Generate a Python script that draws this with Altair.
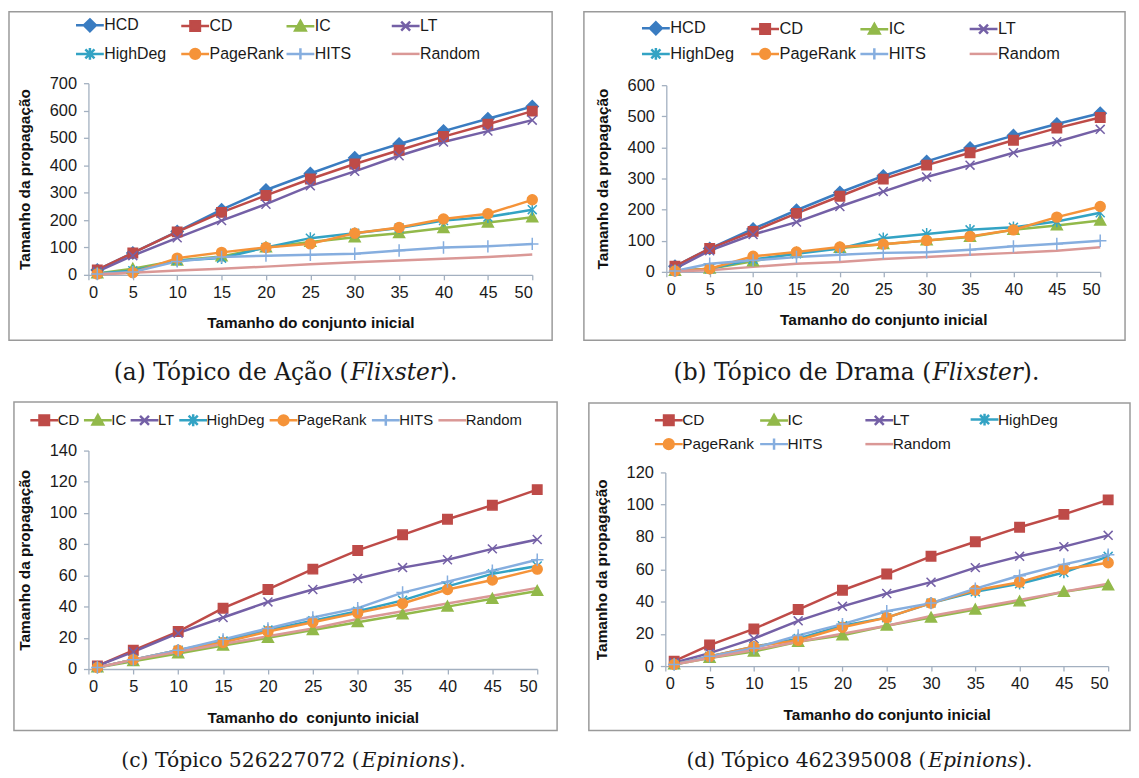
import altair as alt
import pandas as pd

# ---------------- data ----------------
x_vals = [1, 5, 10, 15, 20, 25, 30, 35, 40, 45, 50]

a_series = ["HCD", "CD", "IC", "LT", "HighDeg", "PageRank", "HITS", "Random"]
a_HCD = [18, 80, 158, 238, 310, 370, 428, 478, 525, 570, 615]
a_CD = [18, 80, 157, 228, 290, 350, 405, 455, 505, 550, 598]
a_IC = [5, 22, 52, 67, 100, 120, 137, 152, 171, 191, 210]
a_LT = [12, 70, 135, 198, 258, 325, 378, 435, 485, 525, 565]
a_HighDeg = [5, 15, 52, 61, 100, 134, 152, 171, 198, 211, 238]
a_PageRank = [3, 8, 61, 82, 100, 113, 152, 173, 204, 223, 274]
a_HITS = [3, 10, 49, 65, 70, 73, 77, 89, 100, 104, 113]
a_Random = [1, 8, 16, 22, 30, 39, 46, 52, 59, 65, 74]

b_series = ["HCD", "CD", "IC", "LT", "HighDeg", "PageRank", "HITS", "Random"]
b_HCD = [18, 75, 138, 198, 255, 308, 355, 398, 438, 475, 510]
b_CD = [18, 75, 130, 188, 243, 298, 343, 383, 423, 462, 496]
b_IC = [3, 10, 34, 61, 77, 89, 101, 112, 135, 149, 165]
b_LT = [10, 68, 120, 160, 210, 258, 305, 343, 383, 418, 458]
b_HighDeg = [3, 10, 40, 58, 75, 108, 122, 135, 143, 162, 190]
b_PageRank = [3, 10, 50, 64, 80, 89, 101, 114, 135, 176, 210]
b_HITS = [3, 26, 37, 48, 55, 61, 63, 71, 82, 90, 100]
b_Random = [2, 5, 16, 26, 32, 41, 48, 55, 61, 68, 79]

c_series = ["CD", "IC", "LT", "HighDeg", "PageRank", "HITS", "Random"]
c_CD = [2, 12, 24, 39, 51, 64, 76, 86, 96, 105, 115]
c_IC = [1, 5, 10, 15, 20, 25, 30, 35, 40, 45, 50]
c_LT = [2, 11, 23, 33, 43, 51, 58, 65, 70, 77, 83]
c_HighDeg = [1, 6, 12, 18, 25, 31, 37, 44, 53, 61, 66]
c_PageRank = [1, 6, 12, 17, 24, 30, 36, 42, 51, 57, 64]
c_HITS = [1, 6, 12, 19, 26, 33, 39, 49, 56, 63, 70]
c_Random = [1, 6, 11, 16, 21, 26, 32, 37, 42, 47, 52]

d_series = ["CD", "IC", "LT", "HighDeg", "PageRank", "HITS", "Random"]
d_CD = [3, 13, 23, 35, 47, 57, 68, 77, 86, 94, 103]
d_IC = [1, 5, 9, 15, 19, 25, 30, 35, 40, 46, 50]
d_LT = [2, 8, 17, 28, 37, 45, 52, 61, 68, 74, 81]
d_HighDeg = [1, 6, 12, 17, 25, 30, 39, 46, 51, 58, 68]
d_PageRank = [1, 6, 12, 16, 24, 30, 39, 47, 52, 60, 64]
d_HITS = [1, 6, 11, 19, 26, 34, 39, 48, 56, 63, 69]
d_Random = [1, 5, 10, 15, 20, 25, 31, 36, 41, 46, 51]

x_ticks = [0, 5, 10, 15, 20, 25, 30, 35, 40, 45, 50]
x_title = "Tamanho do conjunto inicial"
c_x_title = "Tamanho do\u00a0 conjunto inicial"
y_title = "Tamanho da propagação"

cap_a = ["(a) Tópico de Ação (", "Flixster", ")."]
cap_b = ["(b) Tópico de Drama (", "Flixster", ")."]
cap_c = ["(c) Tópico 526227072 (", "Epinions", ")."]
cap_d = ["(d) Tópico 462395008 (", "Epinions", ")."]

# ---------------- styles ----------------
COLORS = {
    "HCD": "#3A7CC1", "CD": "#BE4B48", "IC": "#92B94A", "LT": "#7460A6",
    "HighDeg": "#33A3C4", "PageRank": "#F59339", "HITS": "#86AEDF",
    "Random": "#DA9896",
}
MARKERS = {
    "HCD": "diamond", "CD": "square", "IC": "triangle", "LT": "x",
    "HighDeg": "star", "PageRank": "circle", "HITS": "plus", "Random": "none",
}
PT_SCALE = {"diamond": 1.2, "square": 0.95, "triangle": 1.1, "x": 0.9,
            "star": 0.9, "circle": 1.0, "plus": 1.25, "none": 0}
# legend marker half-sizes in px
LG_PX = {"diamond": 6.0, "square": 4.8, "triangle": 5.3, "x": 4.5,
         "star": 4.6, "circle": 4.9, "plus": 5.6, "none": 0}
LEG_SIZE = 576          # layout size of a legend symbol (24 px)
LEG_R = LEG_SIZE ** 0.5 / 2
LEG_HALF_LINE = 14.0    # drawn half-length of the legend line, px


def f(v):
    return f"{v:.3f}".rstrip("0").rstrip(".")


def marker_path(kind, s):
    if kind == "diamond":
        return f"M0,{f(-s)}L{f(s)},0L0,{f(s)}L{f(-s)},0Z"
    if kind == "square":
        return f"M{f(-s)},{f(-s)}H{f(s)}V{f(s)}H{f(-s)}Z"
    if kind == "triangle":
        return f"M0,{f(-s)}L{f(s)},{f(0.8*s)}H{f(-s)}Z"
    if kind == "x":
        return f"M{f(-s)},{f(-s)}L{f(s)},{f(s)}M{f(-s)},{f(s)}L{f(s)},{f(-s)}"
    if kind == "star":
        return (f"M{f(-s)},{f(-s)}L{f(s)},{f(s)}M{f(-s)},{f(s)}L{f(s)},{f(-s)}"
                f"M0,{f(-1.3*s)}V{f(1.3*s)}")
    if kind == "circle":
        return f"M{f(s)},0A{f(s)},{f(s)} 0 1,1 {f(-s)},0A{f(s)},{f(s)} 0 1,1 {f(s)},0Z"
    if kind == "plus":
        return f"M{f(-s)},0H{f(s)}M0,{f(-s)}V{f(s)}"
    return "M0,0"


def point_path(name):
    k = MARKERS[name]
    return marker_path(k, PT_SCALE[k])


def legend_path(name):
    k = MARKERS[name]
    L = LEG_HALF_LINE / LEG_R
    line = f"M{f(-L)},0H{f(L)}"
    if k == "none":
        return line
    return line + marker_path(k, LG_PX[k] / LEG_R)


# approximate DejaVu Serif advance widths (em), used to butt caption pieces
W_REG = {" ": .318, "(": .390, ")": .390, ".": .318, "a": .596, "b": .640,
         "c": .560, "d": .640, "e": .592, "i": .320, "m": .948, "o": .602,
         "p": .640, "r": .478, "T": .669, "A": .722, "D": .770, "ç": .560,
         "ã": .596, "ó": .602}
W_IT = {"F": .683, "E": .730, "l": .320, "i": .320, "x": .565, "s": .513,
        "t": .402, "e": .592, "r": .478, "p": .640, "n": .644, "o": .602}


def text_w(s, table, size):
    return sum(table.get(ch, .636) for ch in s) * size


AX = "#A3B0C0"
FONT = "Liberation Sans"
CAP_FONT = "DejaVu Serif"


def panel(series, values, ymax, ystep, w, h, ytop, frame, legend_kw, cap,
          cap_dx, cap_y, cap_size, xtitle):
    rows = []
    for s in series:
        for xv, yv in zip(x_vals, values[s]):
            rows.append({"x": xv, "v": yv, "series": s})
    df = pd.DataFrame(rows)

    col_scale = alt.Scale(domain=series, range=[COLORS[s] for s in series])
    pt_scale = alt.Scale(domain=series, range=[point_path(s) for s in series])
    lg_scale = alt.Scale(domain=series, range=[legend_path(s) for s in series])

    x_enc = alt.X(
        "x:Q", scale=alt.Scale(domain=[0, 50], nice=False),
        axis=alt.Axis(values=x_ticks, title=xtitle, grid=False,
                      domainColor=AX, tickColor=AX, tickSize=5,
                      domainWidth=1.3, tickWidth=1.3,
                      labelFont=FONT, labelFontSize=16.5,
                      labelColor="#1a1a1a", labelPadding=5,
                      titleFont=FONT, titleFontSize=15.5, titleFontWeight="bold",
                      titleColor="#111111", titlePadding=15))
    y_enc = alt.Y(
        "v:Q", scale=alt.Scale(domain=[0, ymax], nice=False, range=[h, ytop]),
        axis=alt.Axis(values=list(range(0, ymax + 1, ystep)), title=y_title,
                      grid=False, domainColor=AX, tickColor=AX, tickSize=5,
                      domainWidth=1.3, tickWidth=1.3,
                      labelFont=FONT, labelFontSize=16.5,
                      labelColor="#1a1a1a", labelPadding=7,
                      titleFont=FONT, titleFontSize=15.5, titleFontWeight="bold",
                      titleColor="#111111", titlePadding=17))

    fl, fr, ft, fb = frame
    frame_layer = alt.Chart(alt.Data(values=[{}])).mark_rect(
        fill="transparent", stroke="#9A9A9A", strokeWidth=1.5
    ).encode(x=alt.value(fl), x2=alt.value(w + fr), y=alt.value(ft),
             y2=alt.value(fb))

    lines = alt.Chart(df).mark_line(strokeWidth=2.5).encode(
        x=x_enc, y=y_enc,
        stroke=alt.Stroke("series:N", scale=col_scale, legend=None))

    points = alt.Chart(df).mark_point(
        filled=True, size=100, strokeWidth=1.5, opacity=1
    ).encode(
        x=x_enc, y=y_enc,
        fill=alt.Fill("series:N", scale=col_scale, legend=None),
        stroke=alt.Stroke("series:N", scale=col_scale, legend=None),
        shape=alt.Shape("series:N", scale=pt_scale, legend=None))

    leg = alt.Legend(
        title=None, orient="none", direction="horizontal", padding=0,
        symbolSize=LEG_SIZE, symbolStrokeWidth=2.5, symbolOpacity=1,
        symbolFillColor="#000000", symbolStrokeColor="#000000",
        labelFont=FONT, labelColor="#1a1a1a", labelBaseline="middle",
        labelLimit=0, **legend_kw)
    legend_layer = alt.Chart(df).transform_filter("false").mark_point(
        filled=True
    ).encode(
        x=x_enc, y=y_enc,
        fill=alt.Fill("series:N", scale=col_scale, legend=leg),
        stroke=alt.Stroke("series:N", scale=col_scale, legend=leg),
        shape=alt.Shape("series:N", scale=lg_scale, legend=leg))

    # caption, assembled from a roman, an italic and a roman piece
    w1 = text_w(cap[0], W_REG, cap_size)
    w2 = text_w(cap[1], W_IT, cap_size)
    w3 = text_w(cap[2], W_REG, cap_size)
    center = (fl + w + fr) / 2 + cap_dx
    start = center - (w1 + w2 + w3) / 2
    base = alt.Chart(alt.Data(values=[{}]))
    c1 = base.mark_text(text=cap[0], font=CAP_FONT, fontSize=cap_size,
                        align="left", baseline="middle", color="#1a1a1a"
                        ).encode(x=alt.value(start), y=alt.value(cap_y))
    c2 = base.mark_text(text=cap[1], font=CAP_FONT, fontSize=cap_size,
                        fontStyle="italic", align="left", baseline="middle",
                        color="#1a1a1a"
                        ).encode(x=alt.value(start + w1), y=alt.value(cap_y))
    c3 = base.mark_text(text=cap[2], font=CAP_FONT, fontSize=cap_size,
                        align="left", baseline="middle", color="#1a1a1a"
                        ).encode(x=alt.value(start + w1 + w2), y=alt.value(cap_y))

    return alt.layer(frame_layer, lines, points, legend_layer, c1, c2, c3
                     ).resolve_scale(shape="independent", fill="independent",
                                     stroke="independent"
                     ).properties(width=w, height=h)


va = {"HCD": a_HCD, "CD": a_CD, "IC": a_IC, "LT": a_LT, "HighDeg": a_HighDeg,
      "PageRank": a_PageRank, "HITS": a_HITS, "Random": a_Random}
vb = {"HCD": b_HCD, "CD": b_CD, "IC": b_IC, "LT": b_LT, "HighDeg": b_HighDeg,
      "PageRank": b_PageRank, "HITS": b_HITS, "Random": b_Random}
vc = {"CD": c_CD, "IC": c_IC, "LT": c_LT, "HighDeg": c_HighDeg,
      "PageRank": c_PageRank, "HITS": c_HITS, "Random": c_Random}
vd = {"CD": d_CD, "IC": d_IC, "LT": d_LT, "HighDeg": d_HighDeg,
      "PageRank": d_PageRank, "HITS": d_HITS, "Random": d_Random}

pa = panel(a_series, va, 700, 100, 447, 193, 0, (-80, 20, -72, 259),
           dict(legendX=-12, legendY=-72, columns=4, gridAlign="all",
                columnPadding=-3, rowPadding=4, labelFontSize=16, labelOffset=1),
           cap_a, 5, 292, 23.5, x_title)
pb = panel(b_series, vb, 600, 100, 437, 190, 2, (-83, 25, -72, 259),
           dict(legendX=-24, legendY=-69, columns=4, gridAlign="all",
                columnPadding=-2, rowPadding=1, labelFontSize=16.5, labelOffset=1),
           cap_b, 2, 292, 23.5, x_title)
pc = panel(c_series, vc, 140, 20, 452, 220, 0, (-75, 20, -49, 282),
           dict(legendX=-58, legendY=-44, columns=7, gridAlign="none",
                columnPadding=-1, rowPadding=0, labelFontSize=15, labelOffset=0),
           cap_c, 8, 313, 20.5, c_x_title)
pd_ = panel(d_series, vd, 120, 20, 446, 217, 22, (-77, 22, -48, 282),
            dict(legendX=-10, legendY=-45, columns=4, gridAlign="all",
                 columnPadding=0, rowPadding=-1, labelFontSize=15.5, labelOffset=0),
            cap_d, 0, 313, 20.5, x_title)

chart = alt.vconcat(
    alt.hconcat(pa, pb, spacing=30),
    alt.hconcat(pc, pd_, spacing=30),
    spacing=16,
).properties(padding=0, background="white").configure_view(stroke=None)

chart.save("out.html", embed_options={"renderer": "svg", "actions": False})
